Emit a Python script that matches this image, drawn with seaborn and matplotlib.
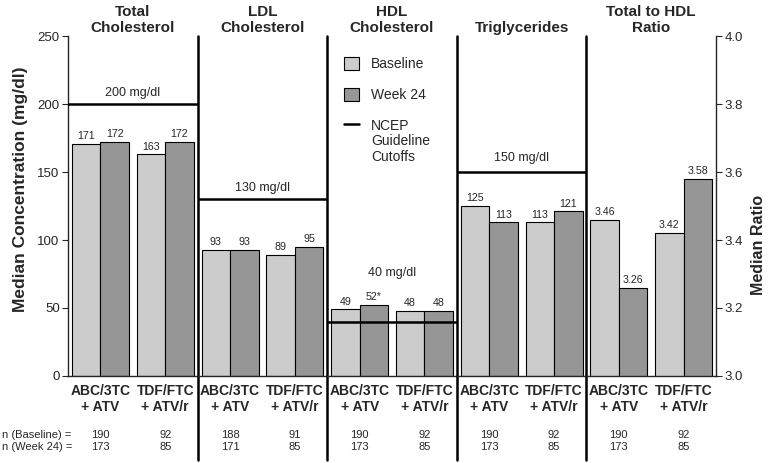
import pandas as pd
import numpy as np
import matplotlib.pyplot as plt
import matplotlib.transforms as mtransforms
from matplotlib.patches import Patch
from matplotlib.lines import Line2D
import seaborn as sns

# donnees
panels = ['Total\nCholesterol', 'LDL\nCholesterol', 'HDL\nCholesterol', 'Triglycerides', 'Total to HDL\nRatio']
regimens = ['ABC/3TC\n+ ATV', 'TDF/FTC\n+ ATV/r']
times = ['Baseline', 'Week 24']
baseline = [[171, 163], [93, 89], [49, 48], [125, 113], [3.46, 3.42]]
week24 = [[172, 172], [93, 95], [52, 48], [113, 121], [3.26, 3.58]]
sig_week24 = [[False, False], [False, False], [True, False], [False, False], [False, False]]
cutoffs = [200, 130, 40, 150, None]
cutoff_labels = ['200 mg/dl', '130 mg/dl', '40 mg/dl', '150 mg/dl', None]
n_baseline = [[190, 92], [188, 91], [190, 92], [190, 92], [190, 92]]
n_week24 = [[173, 85], [171, 85], [173, 85], [173, 85], [173, 85]]

colors = {'Baseline': '#CCCCCC', 'Week 24': '#969696'}

sns.set_theme(style='ticks')
plt.rcParams['font.family'] = ['Liberation Sans', 'DejaVu Sans']

fig, axes = plt.subplots(1, 5, figsize=(7.8, 4.63), dpi=100)
fig.subplots_adjust(left=0.0872, right=0.918, bottom=0.188, top=0.922, wspace=0)

# hauteur (bas du texte) des etiquettes des seuils, en mg/dl
label_y = [204, 134, 71, 156]

for i, ax in enumerate(axes):
    df = pd.DataFrame({
        'regimen': regimens * 2,
        'time': ['Baseline'] * 2 + ['Week 24'] * 2,
        'value': baseline[i] + week24[i],
    })
    sns.barplot(data=df, x='regimen', y='value', hue='time', order=regimens, hue_order=times,
                palette=colors, edgecolor='black', linewidth=0.8, width=0.88, ax=ax, legend=False)
    ax.set_xlim(-0.5, 1.5)
    ax.set_xlabel('')
    ax.set_ylabel('')

    # valeurs au-dessus des barres
    fmt = '{:.2f}' if i == 4 else '{:d}'
    lab_b = [fmt.format(v) for v in baseline[i]]
    lab_w = [fmt.format(v) + ('*' if s else '') for v, s in zip(week24[i], sig_week24[i])]
    ax.bar_label(ax.containers[0], labels=lab_b, padding=2, fontsize=7.7)
    ax.bar_label(ax.containers[1], labels=lab_w, padding=2, fontsize=7.7)

    ax.tick_params(axis='x', length=0, pad=6, labelsize=10)
    for lbl in ax.get_xticklabels():
        lbl.set_fontweight('bold')
        lbl.set_linespacing(1.15)

    ax.spines['top'].set_visible(False)
    ax.spines['bottom'].set_linewidth(1.0)
    if i > 0:
        ax.spines['left'].set_visible(False)
        # separateur vertical qui descend dans le tableau des n
        ax.plot([0, 0], [1, -0.248], transform=ax.transAxes, color='black', lw=1.8, clip_on=False)
    if i < 4:
        ax.spines['right'].set_visible(False)

    if i < 4:
        ax.set_ylim(0, 250)
        ax.set_yticks(np.arange(0, 251, 50))
        if i == 0:
            ax.spines['left'].set_linewidth(1.0)
            ax.tick_params(axis='y', length=4, width=0.8, labelsize=9.5, pad=2)
        else:
            ax.tick_params(axis='y', left=False, labelleft=False)
    else:
        ax.set_ylim(3.0, 4.0)
        ax.set_yticks(np.arange(3.0, 4.01, 0.2))
        ax.yaxis.set_major_formatter(plt.FormatStrFormatter('%.1f'))
        ax.yaxis.tick_right()
        ax.spines['right'].set_linewidth(1.0)
        ax.tick_params(axis='y', length=4, width=0.8, labelsize=9.5, pad=2)
        ax.set_ylabel('Median Ratio', fontsize=11.5, fontweight='bold', rotation=90)
        ax.yaxis.set_label_position('right')
        ax.yaxis.set_label_coords(1.27, 0.385)

    ax.set_title(panels[i], fontweight='bold', fontsize=11, pad=3, linespacing=1.15)

    if cutoffs[i] is not None:
        ax.axhline(cutoffs[i], color='black', lw=1.8, zorder=5)
        ax.text(0.5, label_y[i], cutoff_labels[i],
                transform=mtransforms.blended_transform_factory(ax.transAxes, ax.transData),
                ha='center', va='bottom', fontsize=9)

    # tableau des effectifs
    trans = mtransforms.blended_transform_factory(ax.transData, fig.transFigure)
    for j in range(2):
        ax.text(j, 0.0605, str(n_baseline[i][j]), transform=trans, ha='center', va='center', fontsize=8)
        ax.text(j, 0.0346, str(n_week24[i][j]), transform=trans, ha='center', va='center', fontsize=8)

fig.text(0.003, 0.0605, 'n (Baseline) =', ha='left', va='center', fontsize=8)
fig.text(0.003, 0.0346, 'n (Week 24) =', ha='left', va='center', fontsize=8)

axes[0].set_ylabel('Median Concentration (mg/dl)', fontsize=12.5, fontweight='bold')
axes[0].yaxis.set_label_coords(-0.31, 0.55)

handles = [Patch(facecolor=colors['Baseline'], edgecolor='black', lw=0.8, label='Baseline'),
           Patch(facecolor=colors['Week 24'], edgecolor='black', lw=0.8, label='Week 24'),
           Line2D([], [], color='black', lw=1.8, label='NCEP')]
leg = axes[2].legend(handles=handles, loc='upper left', bbox_to_anchor=(0.13, 0.94), frameon=False,
                     fontsize=10, handlelength=1.1, handleheight=1.1, labelspacing=1.2,
                     handletextpad=0.85, borderaxespad=0, borderpad=0)
# suite du libelle sous "NCEP" (dessinee apres la legende)
axes[2].annotate('Guideline\nCutoffs', xy=(0, 0), xycoords=leg.get_texts()[2],
                 xytext=(0, -1), textcoords='offset points', ha='left', va='top',
                 fontsize=10, linespacing=1.15, zorder=10)

plt.savefig('out.png', dpi=100)
